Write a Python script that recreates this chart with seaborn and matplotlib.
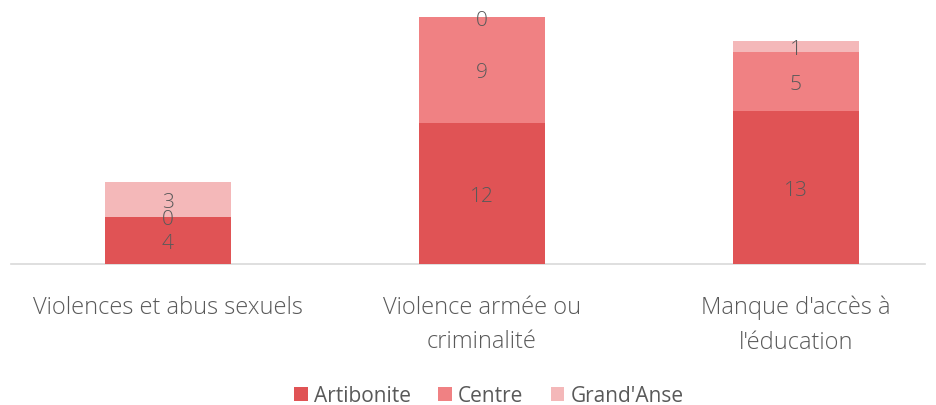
import matplotlib
matplotlib.use("Agg")
import matplotlib.pyplot as plt
import seaborn as sns
import numpy as np
from matplotlib.patches import Patch

categories = ["Violences et abus sexuels", "Violence armée ou\ncriminalité", "Manque d'accès à\nl'éducation"]
series = ["Artibonite", "Centre", "Grand'Anse"]
artibonite = [4, 12, 13]
centre = [0, 9, 5]
grandanse = [3, 0, 1]
colors = ["#E05355", "#F08183", "#F4B8B9"]

sns.set_theme(style="white")
plt.rcParams['font.family'] = ['Open Sans', 'DejaVu Sans']

fig = plt.figure(figsize=(9.36, 4.06), dpi=100)
W, H = 936, 406
left_px, right_px = 11, 925
base_px, top_px = 265, 10
ax = fig.add_axes([left_px / W, 1 - base_px / H, (right_px - left_px) / W, (base_px - top_px) / H])

bottoms = np.zeros(len(categories))
vals_list = [artibonite, centre, grandanse]
for k, (name, vals, col) in enumerate(zip(series, vals_list, colors)):
    sns.barplot(x=np.arange(len(categories)), y=np.array(vals) + bottoms, color=col, ax=ax,
                width=0.40, saturation=1, linewidth=0, edgecolor="none",
                zorder=3 - k, native_scale=True)
    for i, v in enumerate(vals):
        ax.text(i, bottoms[i] + v / 2, str(v), ha="center", va="center_baseline", fontsize=15,
                color="#595959", fontweight="light", zorder=10)
    bottoms = bottoms + np.array(vals)

unit = 314
ax.set_xlim(-0.5, (right_px - 168) / unit)
ax.set_ylim(0, 21 * (base_px - top_px) / (265 - 18))
ax.set_xticks(range(len(categories)))
ax.set_xticklabels(categories, fontsize=17, color="#595959", fontweight="light", linespacing=1.6)
ax.tick_params(axis="x", length=0, pad=22)
ax.set_yticks([])
ax.set_ylabel("")
ax.set_xlabel("")
for s in ["top", "right", "left"]:
    ax.spines[s].set_visible(False)
ax.spines["bottom"].set_color("#D9D9D9")
ax.spines["bottom"].set_linewidth(1.2)

handles = [Patch(facecolor=c, edgecolor="none", label=s) for s, c in zip(series, colors)]
fig.legend(handles=handles, loc="center", bbox_to_anchor=(489 / W, 1 - 397 / H), ncol=3, frameon=False,
           fontsize=15, handlelength=0.65, handleheight=0.65, handletextpad=0.3, columnspacing=1.3,
           labelcolor="#595959")

fig.savefig("out.png", dpi=100)
